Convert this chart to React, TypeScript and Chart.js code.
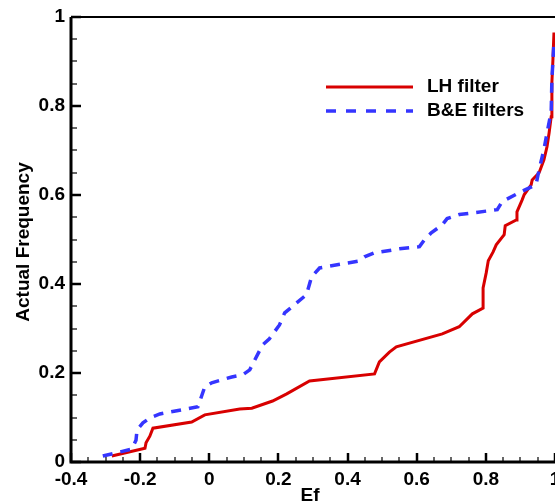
import React, { useEffect, useRef } from "react";
import { Chart, registerables } from "chart.js";

Chart.register(...registerables);

// ---- data ----
const seriesNames = ["LH filter", "B&E filters"];

const lhX = [-0.282, -0.186, -0.183, -0.172, -0.163, -0.051, -0.013, 0.088, 0.123, 0.183, 0.224, 0.29, 0.478, 0.492, 0.521, 0.541, 0.674, 0.723, 0.761, 0.792, 0.792, 0.801, 0.807, 0.821, 0.83, 0.853, 0.856, 0.888, 0.89, 0.905, 0.911, 0.931, 0.934, 0.954, 0.968, 0.977, 0.983, 0.989, 0.991, 0.991, 0.994, 0.997];
const lhY = [0.0135, 0.031, 0.043, 0.058, 0.076, 0.09, 0.106, 0.119, 0.121, 0.137, 0.153, 0.182, 0.198, 0.225, 0.247, 0.259, 0.288, 0.304, 0.333, 0.346, 0.391, 0.425, 0.452, 0.472, 0.488, 0.511, 0.531, 0.544, 0.562, 0.589, 0.601, 0.623, 0.634, 0.65, 0.679, 0.709, 0.74, 0.776, 0.814, 0.853, 0.904, 0.965];

const beX = [-0.308, -0.224, -0.212, -0.209, -0.192, -0.172, -0.143, -0.033, -0.013, 0.007, 0.065, 0.097, 0.117, 0.154, 0.174, 0.203, 0.218, 0.281, 0.296, 0.319, 0.434, 0.449, 0.478, 0.55, 0.608, 0.622, 0.642, 0.674, 0.688, 0.723, 0.833, 0.847, 0.896, 0.945, 0.954, 0.968, 0.977, 0.989, 0.991, 0.997];
const beY = [0.0135, 0.029, 0.049, 0.072, 0.088, 0.099, 0.108, 0.124, 0.169, 0.178, 0.191, 0.196, 0.207, 0.263, 0.277, 0.308, 0.335, 0.376, 0.416, 0.436, 0.452, 0.461, 0.47, 0.479, 0.484, 0.499, 0.515, 0.533, 0.547, 0.556, 0.567, 0.585, 0.605, 0.623, 0.657, 0.702, 0.74, 0.787, 0.859, 0.943];

const xMin = -0.4;
const xMax = 1;
const yMin = 0;
const yMax = 1;
const majorStep = 0.2;
const minorStep = 0.05;
const xTitle = "Ef";
const yTitle = "Actual Frequency";

const RED = "#d80000";
const BLUE = "#3535ff";
const FONT = '"Liberation Sans", Arial, sans-serif';

const fmt = (v: number) => {
  const n = Math.round(v * 10) / 10;
  return n === 0 ? "0" : String(n);
};

const framePlugin = {
  id: "frame",
  afterDraw(chart: any) {
    const { ctx, chartArea: a, scales } = chart;
    const x = scales.x;
    const y = scales.y;
    ctx.save();
    ctx.strokeStyle = "#000";
    // x ticks (inward)
    const nx = Math.round((xMax - xMin) / minorStep);
    for (let i = 0; i <= nx; i++) {
      const v = xMin + i * minorStep;
      const px = Math.round(x.getPixelForValue(v));
      const major = i % 4 === 0;
      ctx.lineWidth = major ? 2.5 : 1.2;
      ctx.beginPath();
      ctx.moveTo(px, a.bottom);
      ctx.lineTo(px, a.bottom - (major ? 9 : 5));
      ctx.stroke();
    }
    const ny = Math.round((yMax - yMin) / minorStep);
    for (let i = 0; i <= ny; i++) {
      const v = yMin + i * minorStep;
      const py = Math.round(y.getPixelForValue(v));
      const major = i % 4 === 0;
      ctx.lineWidth = major ? 2.5 : 1.2;
      ctx.beginPath();
      ctx.moveTo(a.left, py);
      ctx.lineTo(a.left + (major ? 10 : 6), py);
      ctx.stroke();
    }
    // frame
    ctx.lineWidth = 3;
    ctx.beginPath();
    ctx.moveTo(a.left, a.top);
    ctx.lineTo(a.left, a.bottom);
    ctx.lineTo(a.right + 2, a.bottom);
    ctx.stroke();
    ctx.lineWidth = 2;
    ctx.beginPath();
    ctx.moveTo(a.left, a.top);
    ctx.lineTo(a.right + 2, a.top);
    ctx.stroke();

    // legend
    ctx.lineWidth = 3;
    ctx.strokeStyle = RED;
    ctx.beginPath();
    ctx.moveTo(326, 87);
    ctx.lineTo(413, 87);
    ctx.stroke();
    ctx.strokeStyle = BLUE;
    ctx.lineWidth = 3.5;
    ctx.setLineDash([10, 10]);
    ctx.beginPath();
    ctx.moveTo(326, 111);
    ctx.lineTo(413, 111);
    ctx.stroke();
    ctx.setLineDash([]);
    ctx.fillStyle = "#000";
    ctx.font = `bold 19px ${FONT}`;
    ctx.textAlign = "left";
    ctx.textBaseline = "middle";
    ctx.fillText(seriesNames[0], 427, 87);
    ctx.fillText(seriesNames[1], 427, 111);

    // axis titles
    ctx.font = `bold 19px ${FONT}`;
    ctx.textAlign = "center";
    ctx.textBaseline = "alphabetic";
    ctx.fillText(xTitle, 310, 501);
    ctx.save();
    ctx.translate(29, 242);
    ctx.rotate(-Math.PI / 2);
    ctx.fillText(yTitle, 0, 0);
    ctx.restore();
    ctx.restore();
  },
};

export default function App() {
  const ref = useRef<HTMLCanvasElement | null>(null);
  useEffect(() => {
    if (!ref.current) return;
    const chart = new Chart(ref.current, {
      type: "line",
      data: {
        datasets: [
          {
            label: seriesNames[0],
            data: lhX.map((v, i) => ({ x: v, y: lhY[i] })),
            borderColor: RED,
            borderWidth: 3,
            pointRadius: 0,
            tension: 0,
            fill: false,
            order: 1,
          },
          {
            label: seriesNames[1],
            data: beX.map((v, i) => ({ x: v, y: beY[i] })),
            borderColor: BLUE,
            borderWidth: 3.5,
            borderDash: [10, 8],
            pointRadius: 0,
            tension: 0,
            fill: false,
            order: 0,
          },
        ],
      },
      options: {
        animation: false,
        responsive: false,
        devicePixelRatio: 1,
        layout: { padding: { top: 17, right: 0, bottom: 0, left: 0 } },
        plugins: { legend: { display: false }, tooltip: { enabled: false } },
        scales: {
          x: {
            type: "linear",
            min: xMin,
            max: xMax,
            grid: { display: false, drawTicks: false },
            border: { display: false },
            ticks: {
              stepSize: majorStep,
              autoSkip: false,
              maxRotation: 0,
              padding: 6,
              color: "#000",
              font: { family: FONT, size: 19, weight: "bold" },
              callback: (v: any) => fmt(Number(v)),
            },
            afterFit: (s: any) => {
              s.height = 40;
              s.paddingLeft = 0;
              s.paddingRight = 0;
              s.paddingTop = 0;
              s.paddingBottom = 0;
            },
          },
          y: {
            type: "linear",
            min: yMin,
            max: yMax,
            grid: { display: false, drawTicks: false },
            border: { display: false },
            ticks: {
              stepSize: majorStep,
              autoSkip: false,
              padding: 6,
              color: "#000",
              font: { family: FONT, size: 19, weight: "bold" },
              callback: (v: any) => fmt(Number(v)),
            },
            afterFit: (s: any) => {
              s.width = 71;
              s.paddingLeft = 0;
              s.paddingRight = 0;
              s.paddingTop = 0;
              s.paddingBottom = 0;
            },
          },
        },
      },
      plugins: [framePlugin],
    } as any);
    return () => chart.destroy();
  }, []);
  return (
    <div style={{ position: "fixed", left: 0, top: 0, width: 555, height: 502, background: "#fff" }}>
      <canvas ref={ref} width={555} height={502} />
    </div>
  );
}
